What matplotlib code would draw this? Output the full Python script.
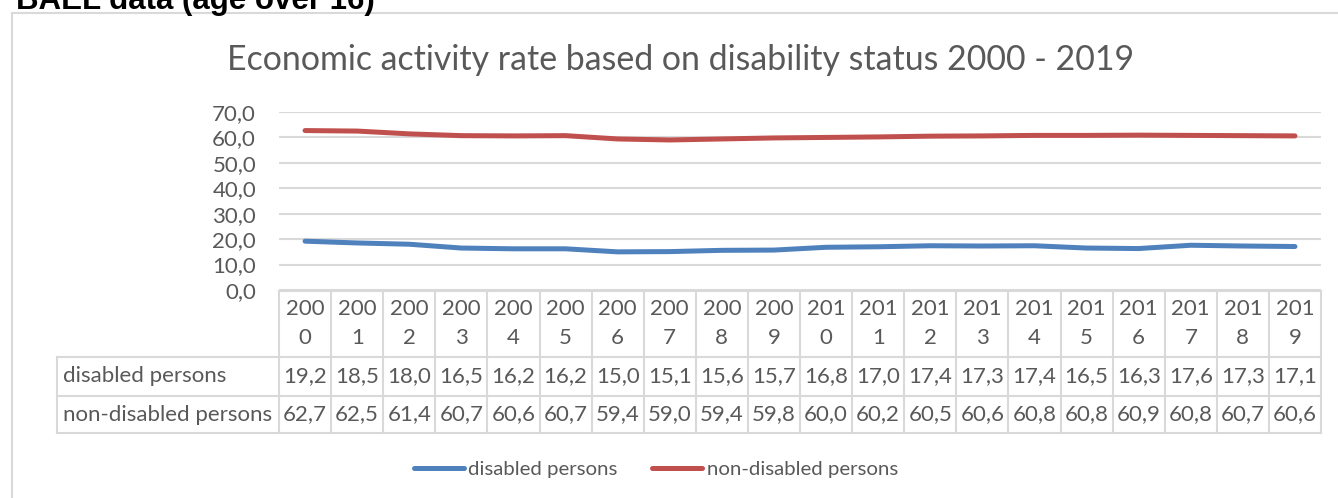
import matplotlib
matplotlib.use("Agg")
import matplotlib.pyplot as plt
from matplotlib.ticker import FuncFormatter, MultipleLocator
from matplotlib.transforms import blended_transform_factory
from matplotlib.lines import Line2D

years = list(range(2000, 2020))
disabled = [19.2, 18.5, 18.0, 16.5, 16.2, 16.2, 15.0, 15.1, 15.6, 15.7,
            16.8, 17.0, 17.4, 17.3, 17.4, 16.5, 16.3, 17.6, 17.3, 17.1]
non_disabled = [62.7, 62.5, 61.4, 60.7, 60.6, 60.7, 59.4, 59.0, 59.4, 59.8,
                60.0, 60.2, 60.5, 60.6, 60.8, 60.8, 60.9, 60.8, 60.7, 60.6]
series_names = ["disabled persons", "non-disabled persons"]
colors = ["#4f81bd", "#c0504d"]

W, H = 1338, 498
plt.rcParams["font.family"] = ["Lato", "DejaVu Sans"]
txt = "#595959"
grid = "#d9d9d9"
fs = 16


def fx(px):
    return px / W


def fy(py):
    return 1 - py / H


def comma(v, pos=None):
    return f"{v:.1f}".replace(".", ",")


fig = plt.figure(figsize=(W / 100, H / 100), dpi=100)

# outer frame (only top and left edge visible)
fig.add_artist(Line2D([fx(12), 1], [fy(13), fy(13)], color=grid, lw=1.5))
fig.add_artist(Line2D([fx(12), fx(12)], [fy(13), 0], color=grid, lw=1.5))

fig.text(fx(16), fy(9), "BAEL data (age over 16)", family="Liberation Sans",
         weight="bold", fontsize=22.5, color="black", va="baseline", ha="left")

fig.text(fx(681), fy(60), "Economic activity rate based on disability status 2000 - 2019",
         fontsize=24.4, color=txt, ha="center", va="center")

x0, x1, ytop, ybot = 279, 1321, 112, 290
ax = fig.add_axes([fx(x0), fy(ybot), fx(x1) - fx(x0), fy(ytop) - fy(ybot)])
xs = list(range(len(years)))
for vals, c, name in zip([disabled, non_disabled], colors, series_names):
    ax.plot(xs, vals, color=c, lw=3.6, solid_capstyle="round", label=name)
ax.set_xlim(-0.5, len(years) - 0.5)
ax.set_ylim(0, 70)
ax.yaxis.set_major_locator(MultipleLocator(10))
ax.yaxis.set_major_formatter(FuncFormatter(comma))
ax.grid(axis="y", color=grid, lw=1.5)
ax.set_axisbelow(True)
for s in ax.spines.values():
    s.set_visible(False)
ax.set_xticks([])
ax.tick_params(axis="y", length=0, pad=16.5, labelsize=fs, labelcolor=txt)

# data table under the plot
tr = blended_transform_factory(ax.transData, fig.transFigure)
rows = [291, 357, 396, 433]
lab_left = 57
tkw = dict(color=grid, lw=1.5)
fig.add_artist(Line2D([fx(x0), fx(x1)], [fy(rows[0])] * 2, **tkw))
for r in rows[1:]:
    fig.add_artist(Line2D([fx(lab_left), fx(x1)], [fy(r)] * 2, **tkw))
fig.add_artist(Line2D([fx(lab_left)] * 2, [fy(rows[1]), fy(rows[3])], **tkw))
for i in range(len(years) + 1):
    ax.add_artist(Line2D([i - 0.5] * 2, [fy(rows[0]), fy(rows[3])], transform=tr,
                         clip_on=False, **tkw))

for i, y in enumerate(years):
    s = str(y)
    ax.text(i, fy(309), s[:3], transform=tr, ha="center", va="center",
            fontsize=fs, color=txt)
    ax.text(i, fy(338), s[3:], transform=tr, ha="center", va="center",
            fontsize=fs, color=txt)

for r, (name, vals) in enumerate(zip(series_names, [disabled, non_disabled])):
    yc = (rows[r + 1] + rows[r + 2]) / 2
    fig.text(fx(63), fy(yc), name, ha="left", va="center", fontsize=fs, color=txt)
    for i, v in enumerate(vals):
        ax.text(i, fy(yc), comma(v), transform=tr, ha="center", va="center",
                fontsize=fs, color=txt)

# legend
handles = [Line2D([], [], color=c, lw=3.6, solid_capstyle="round") for c in colors]
fig.legend(handles, series_names, loc="center", bbox_to_anchor=(fx(656), fy(469)),
           ncol=2, frameon=False, fontsize=14.7, labelcolor=txt, handlelength=2.45,
           handletextpad=0.2, columnspacing=1.7)

fig.savefig("out.png", dpi=100)
